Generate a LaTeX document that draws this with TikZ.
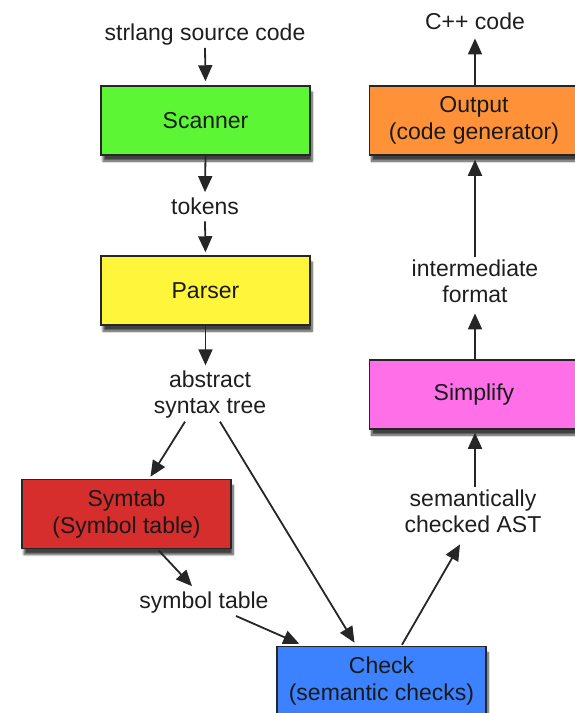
\documentclass[tikz,border=0pt]{standalone}
\usepackage{fontspec}
\setmainfont{Liberation Sans}
\usetikzlibrary{arrows.meta,calc,shadows.blur}
\definecolor{cgreen}{RGB}{92,246,52}
\definecolor{cyellow}{RGB}{255,246,60}
\definecolor{cred}{RGB}{214,45,45}
\definecolor{cblue}{RGB}{60,130,255}
\definecolor{cpink}{RGB}{255,112,232}
\definecolor{corange}{RGB}{255,146,56}
\definecolor{ctext}{RGB}{30,30,30}
\tikzset{
  stagebox/.style={draw=black!85, line width=1.5pt, minimum width=209pt, minimum height=69pt,
     align=center, inner sep=0pt, font=\fontsize{23}{26.5}\selectfont, text=black!90,
     blur shadow={shadow xshift=2pt, shadow yshift=-6pt, shadow blur steps=8, shadow opacity=75}},
  lbl/.style={align=center, inner sep=3pt, font=\fontsize{23}{26.5}\selectfont, text=ctext},
  arr/.style={line width=1.8pt, draw=black!85, -{Triangle[length=16pt,width=14pt]}},
  plain/.style={line width=1.8pt, draw=black!85}
}
\begin{document}
\begin{tikzpicture}[x=1pt,y=-1pt]
\useasboundingbox (0,0) rectangle (575,713);
% boxes
\node[stagebox, fill=cgreen]  (scanner)  at (205.5,120.5) {Scanner};
\node[stagebox, fill=cyellow] (parser)   at (205.5,290.5) {Parser};
\node[stagebox, fill=cred]    (symtab)   at (126.5,514)   {Symtab\\(Symbol table)};
\node[stagebox, fill=cblue]   (check)    at (381.5,681)   {Check\\(semantic checks)};
\node[stagebox, fill=cpink]   (simplify) at (474,394.5)   {Simplify};
\node[stagebox, fill=corange] (output)   at (474,120.5)   {Output\\(code generator)};
% labels
\node[lbl, anchor=base] (src)     at (205,40)  {strlang source code};
\node[lbl, anchor=base] (tokens)  at (205,214) {tokens};
\node[lbl]              (ast)     at (210,394.5) {abstract\\syntax tree};
\node[lbl, anchor=base] (symtext) at (204,608) {symbol table};
\node[lbl]              (sem)     at (473,511.5) {semantically\\checked AST};
\node[lbl]              (inter)   at (475,281.5) {intermediate\\format};
\node[lbl, anchor=base] (cpp)     at (475,29)  {C++ code};
% connectors
\draw[arr] (src.south) -- ($(scanner.north)+(0,-4)$);
\draw[arr] (scanner.south) -- ($(tokens.north)+(0,-2)$);
\draw[arr] ($(tokens.south)+(0,4)$) -- ($(parser.north)+(0,-3)$);
\draw[arr] (parser.south) -- ($(ast.north)+(-4.5,-2)$);
\draw[arr] ($(ast.south)+(-25,0)$) -- ($(symtab.north)+(24,-2)$);
\draw[arr] ($(ast.south)+(10,0)$) -- ($(check.north)+(-27,-3)$);
\draw[arr] ($(symtab.south)+(32,1)$) -- ($(symtext.north)+(-12,-2)$);
\draw[arr] ($(symtext.south)+(32,0)$) -- ($(check.north west)+(23,-2)$);
\draw[arr] ($(check.north)+(20.5,-1)$) -- ($(sem.south)+(-13,8)$);
\draw[arr] ($(sem.north)+(2,0)$) -- ($(simplify.south)+(1,3)$);
\draw[arr] ($(simplify.north)+(1,0)$) -- ($(inter.south)+(0,7)$);
\draw[arr] (inter.north) -- ($(output.south)+(1,4)$);
\draw[arr] ($(output.north)+(1,0)$) -- ($(cpp.south)+(0,6)$);
\end{tikzpicture}
\end{document}
